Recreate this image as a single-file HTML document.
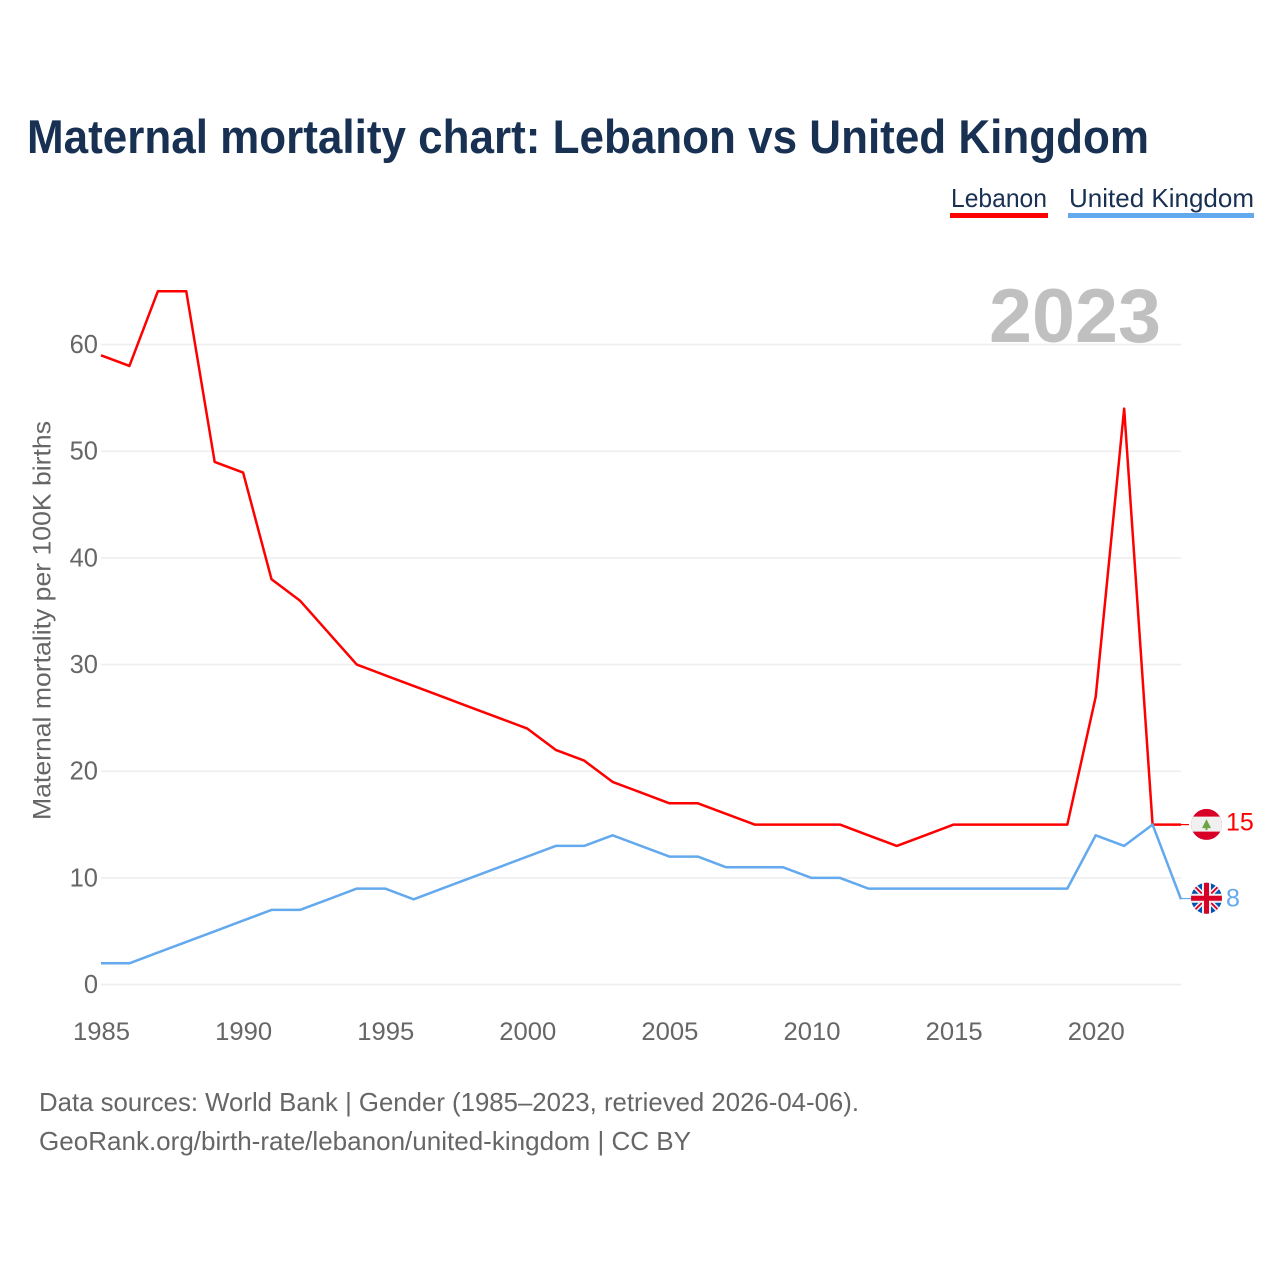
<!DOCTYPE html>
<html lang="en">
<head>
<meta charset="utf-8">
<title>Maternal mortality chart: Lebanon vs United Kingdom</title>
<style>
html,body{margin:0;padding:0;background:#fff;width:1280px;height:1280px;overflow:hidden}
svg{display:block}
text{font-family:"Liberation Sans",sans-serif}
</style>
</head>
<body>
<svg id="chart" xmlns="http://www.w3.org/2000/svg" width="1280" height="1280" viewBox="0 0 1280 1280">
  <rect width="1280" height="1280" fill="#ffffff"/>
  <text x="27" y="153" font-size="47" font-weight="700" fill="#183153" textLength="1122" lengthAdjust="spacingAndGlyphs">Maternal mortality chart: Lebanon vs United Kingdom</text>

  <g>
    <g>
      <text x="951" y="207" font-size="26" fill="#183153" textLength="96" lengthAdjust="spacingAndGlyphs">Lebanon</text>
      <rect x="950" y="213" width="98" height="5" fill="#ff0000"/>
    </g>
    <g>
      <text x="1069" y="207" font-size="26" fill="#183153" textLength="185" lengthAdjust="spacingAndGlyphs">United Kingdom</text>
      <rect x="1068" y="213" width="186" height="5" fill="#63a9ee"/>
    </g>
  </g>

  <g id="grid"></g>
  <text x="989" y="342" font-size="76" font-weight="700" fill="#c0c0c0" textLength="172" lengthAdjust="spacingAndGlyphs">2023</text>
  <g id="yticks"></g>
  <g id="xticks"></g>
  <text transform="translate(50.5 820) rotate(-90)" font-size="25" fill="#666666" textLength="399" lengthAdjust="spacingAndGlyphs">Maternal mortality per 100K births</text>
  <g id="series"></g>
  <g id="endmarks"></g>

  <text x="39" y="1111" font-size="26" fill="#666666" textLength="820" lengthAdjust="spacingAndGlyphs">Data sources: World Bank | Gender (1985–2023, retrieved 2026-04-06).</text>
  <text x="39" y="1150" font-size="26" fill="#666666" textLength="652" lengthAdjust="spacingAndGlyphs">GeoRank.org/birth-rate/lebanon/united-kingdom | CC BY</text>
</svg>
<script>
const years = [1985,1986,1987,1988,1989,1990,1991,1992,1993,1994,1995,1996,1997,1998,1999,2000,2001,2002,2003,2004,2005,2006,2007,2008,2009,2010,2011,2012,2013,2014,2015,2016,2017,2018,2019,2020,2021,2022,2023];
const lebanonValues = [59,58,65,65,49,48,38,36,33,30,29,28,27,26,25,24,22,21,19,18,17,17,16,15,15,15,15,14,13,14,15,15,15,15,15,27,54,15,15];
const ukValues = [2,2,3,4,5,6,7,7,8,9,9,8,9,10,11,12,13,13,14,13,12,12,11,11,11,10,10,9,9,9,9,9,9,9,9,14,13,15,8];
const yTickValues = [0,10,20,30,40,50,60];
const xTickValues = [1985,1990,1995,2000,2005,2010,2015,2020];

const NS = 'http://www.w3.org/2000/svg';
const x = function (year) { return 101 + (year - 1985) * (1181 - 101) / 38; };
const y = function (value) { return 984.6 - value * (984.6 - 344.6) / 60; };
function mk(tag, parent, attrs) {
  const el = document.createElementNS(NS, tag);
  Object.keys(attrs).forEach(function (k) { el.setAttribute(k, attrs[k]); });
  parent.appendChild(el);
  return el;
}
const grid = document.getElementById('grid');
const yticks = document.getElementById('yticks');
const xticks = document.getElementById('xticks');
const seriesGroup = document.getElementById('series');
const endmarks = document.getElementById('endmarks');

yTickValues.forEach(function (v) {
  const line = mk('line', grid, {x1: 101, x2: 1181, y1: y(v), y2: y(v), stroke: '#eeeeee', 'stroke-width': 1.6});
  
  
  const t = mk('text', yticks, {x: 98, y: y(v) + 8.4, 'text-anchor': 'end', 'font-size': 25.5, fill: '#666666'});
  
  
  t.textContent = String(v);
});
xTickValues.forEach(function (v) {
  const t = mk('text', xticks, {x: x(v) + 0.5, y: 1040, 'text-anchor': 'middle', 'font-size': 25, fill: '#666666', textLength: 57, lengthAdjust: 'spacingAndGlyphs'});
  
  
  t.textContent = String(v);
});
function pathFor(values) {
  return values.map(function (v, i) { return (i ? 'L' : 'M') + x(years[i]).toFixed(2) + ' ' + y(v).toFixed(2); }).join(' ');
}
const lebanonLine = mk('path', seriesGroup, {d: pathFor(lebanonValues), fill: 'none', stroke: '#ff0000', 'stroke-width': 2.5, 'stroke-linejoin': 'round'});


const ukLine = mk('path', seriesGroup, {d: pathFor(ukValues), fill: 'none', stroke: '#63a9ee', 'stroke-width': 2.5, 'stroke-linejoin': 'round'});



const lastLb = lebanonValues[lebanonValues.length - 1];
const lastUk = ukValues[ukValues.length - 1];
const yLb = y(lastLb);
const yUk = y(lastUk);

const c1 = mk('line', endmarks, {x1: 1181, x2: 1189, y1: yLb, y2: yLb, stroke: '#ff0000', 'stroke-width': 1.2});


const c2 = mk('line', endmarks, {x1: 1181, x2: 1191, y1: yUk - 0.7, y2: yUk - 0.7, stroke: '#63a9ee', 'stroke-width': 1.2});



const defs = mk('defs', endmarks, {});
const clipA = mk('clipPath', defs, {id: 'clip-lb'});
mk('circle', clipA, {cx: 1206.5, cy: yLb - 0.2, r: 15.5});
const clipB = mk('clipPath', defs, {id: 'clip-uk'});
mk('circle', clipB, {cx: 1206.5, cy: yUk - 1, r: 15.5});

const flagLb = mk('g', endmarks, {'clip-path': 'url(#clip-lb)'});


mk('rect', flagLb, {x: 1190, y: yLb - 16, width: 33, height: 32, fill: '#d80027'});
mk('rect', flagLb, {x: 1190, y: yLb - 8, width: 33, height: 15, fill: '#f0f0f0'});
mk('path', flagLb, {d: 'M1206.5 ' + (yLb - 5.5) + ' l4.5 9 h-3.5 v2 h-2 v-2 h-3.5 z', fill: '#6da544'});

const flagUk = mk('g', endmarks, {'clip-path': 'url(#clip-uk)'});


const cy = yUk - 1;
mk('rect', flagUk, {x: 1190, y: cy - 16, width: 33, height: 32, fill: '#0052b4'});
mk('path', flagUk, {d: 'M1190.5 ' + (cy - 16) + ' L1222.5 ' + (cy + 16) + ' M1222.5 ' + (cy - 16) + ' L1190.5 ' + (cy + 16), stroke: '#f0f0f0', 'stroke-width': 5, fill: 'none'});
mk('path', flagUk, {d: 'M1190.5 ' + (cy - 16) + ' L1222.5 ' + (cy + 16) + ' M1222.5 ' + (cy - 16) + ' L1190.5 ' + (cy + 16), stroke: '#d80027', 'stroke-width': 1.8, fill: 'none'});
mk('rect', flagUk, {x: 1190, y: cy - 4.5, width: 33, height: 9, fill: '#f0f0f0'});
mk('rect', flagUk, {x: 1202, y: cy - 16, width: 9, height: 32, fill: '#f0f0f0'});
mk('rect', flagUk, {x: 1190, y: cy - 2.5, width: 33, height: 5, fill: '#d80027'});
mk('rect', flagUk, {x: 1204, y: cy - 16, width: 5, height: 32, fill: '#d80027'});

const labelLb = mk('text', endmarks, {x: 1226, y: yLb + 6, 'font-size': 25, fill: '#ff0000'});


labelLb.textContent = String(lastLb);
const labelUk = mk('text', endmarks, {x: 1226, y: yUk + 7, 'font-size': 25, fill: '#63a9ee'});


labelUk.textContent = String(lastUk);
</script>
</body>
</html>
